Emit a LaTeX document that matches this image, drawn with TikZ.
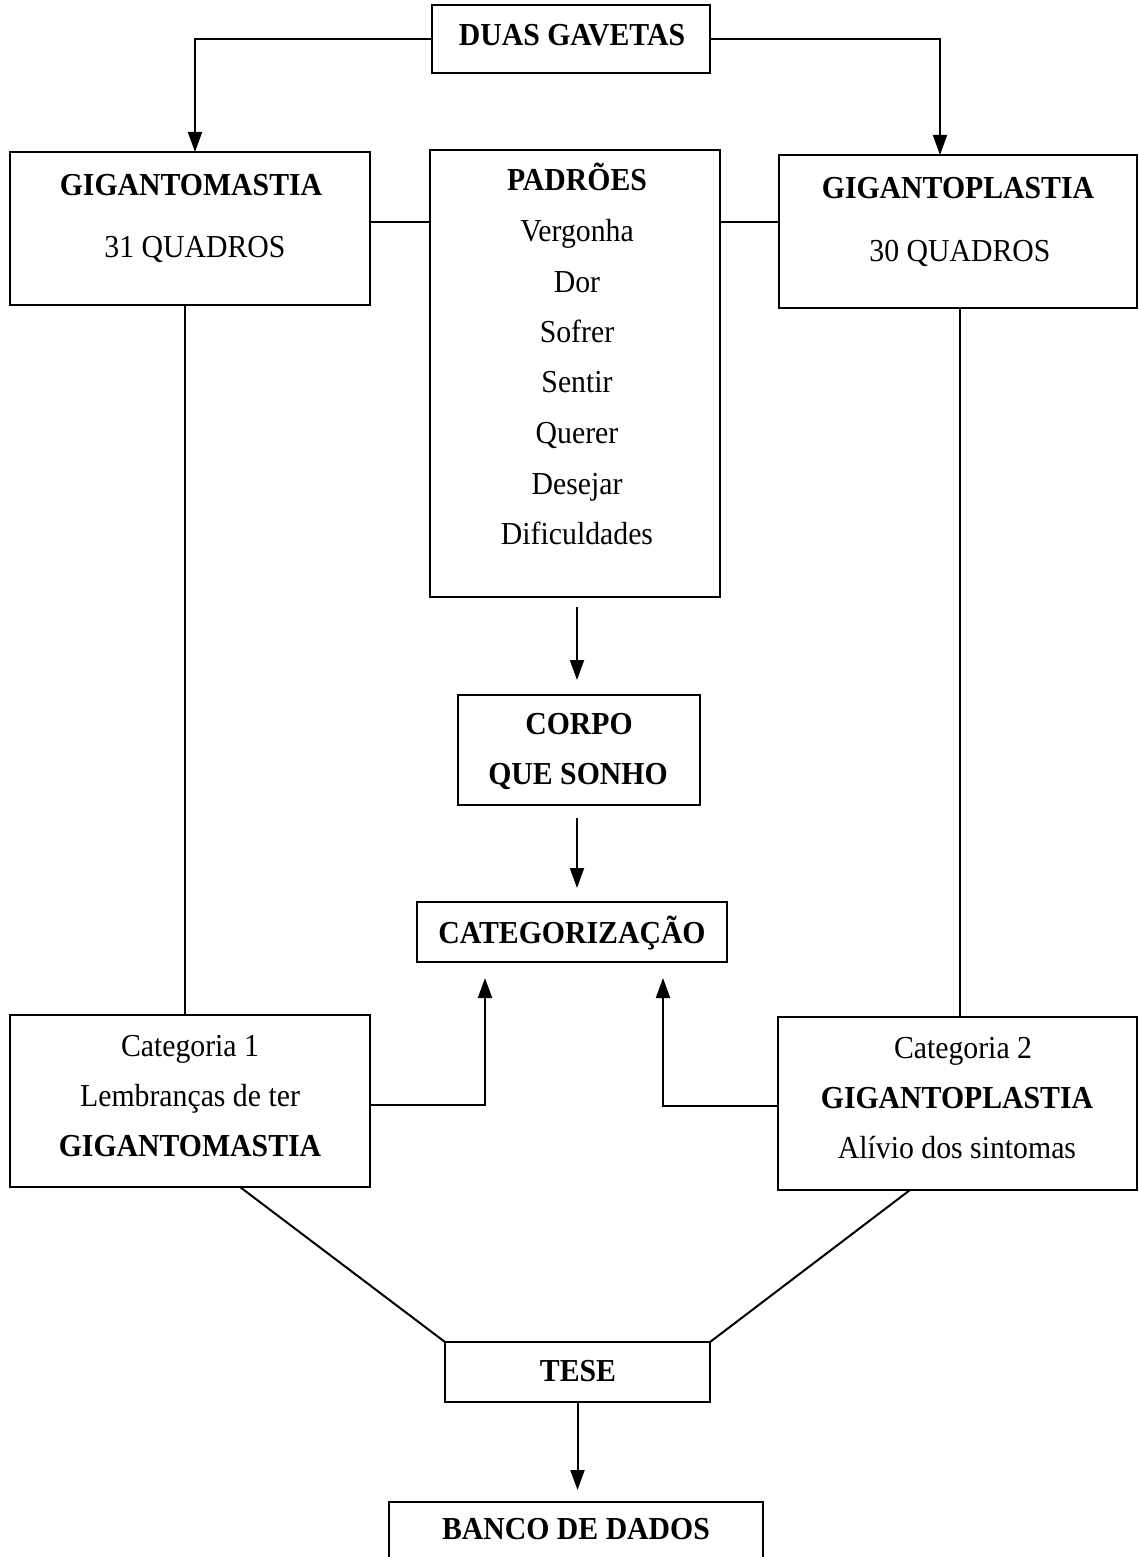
\documentclass[tikz,border=0pt]{standalone}
\usepackage{fontspec}
\setmainfont{Liberation Serif}[FakeStretch=0.93]
\usetikzlibrary{arrows.meta,calc}
\tikzset{
 box/.style={draw, line width=2pt, inner sep=0pt, outer sep=0pt},
 txt/.style={anchor=base, inner sep=0pt, font=\fontsize{32}{36}\selectfont},
 btxt/.style={anchor=base, inner sep=0pt, font=\fontsize{32}{36}\selectfont\bfseries},
 link/.style={line width=2pt},
 arr/.style={line width=2pt, -{Triangle[length=20pt,width=14pt]}},
}
\begin{document}
\begin{tikzpicture}[x=1pt,y=-1pt]
\useasboundingbox (0,0) rectangle (1139,1557);
\fill[white] (0,0) rectangle (1139,1557);

% boxes
\node[box, minimum width=278pt, minimum height=68pt] (dg) at (571,39) {};
\node[box, minimum width=360pt, minimum height=153pt] (gm) at (190,228.5) {};
\node[box, minimum width=290pt, minimum height=447pt] (pad) at (575,373.5) {};
\node[box, minimum width=358pt, minimum height=153pt] (gp) at (958,231.5) {};
\node[box, minimum width=242pt, minimum height=110pt] (corpo) at (579,750) {};
\node[box, minimum width=310pt, minimum height=60pt] (cat) at (572,932) {};
\node[box, minimum width=360pt, minimum height=172pt] (c1) at (190,1101) {};
\node[box, minimum width=359pt, minimum height=173pt] (c2) at (957.5,1103.5) {};
\node[box, minimum width=265pt, minimum height=60pt] (tese) at (577.5,1372) {};
\node[box, minimum width=374pt, minimum height=120pt] (banco) at (576,1562) {};

% texts
\node[btxt] (tdg) at (572,46) {DUAS GAVETAS};
\node[btxt] (tgm1) at (191,196) {GIGANTOMASTIA};
\node[txt] (tgm2) at (195,257) {31 QUADROS};
\node[btxt] (tgp1) at (958,198) {GIGANTOPLASTIA};
\node[txt] (tgp2) at (960,261) {30 QUADROS};
\node[btxt] (tpad) at (577,191) {PADRÕES};
\foreach \w/\yy [count=\i] in {Vergonha/241,Dor/292,Sofrer/342,Sentir/392,Querer/443,Desejar/494,Dificuldades/544}
  \node[txt] (tp\i) at (577,\yy) {\w};
\node[btxt] (tco1) at (579,734) {CORPO};
\node[btxt] (tco2) at (578,784) {QUE SONHO};
\node[btxt] (tcat) at (572,943) {CATEGORIZAÇÃO};
\node[txt] (tc11) at (190,1056) {Categoria 1};
\node[txt] (tc12) at (190,1106) {Lembranças de ter};
\node[btxt] (tc13) at (190,1156) {GIGANTOMASTIA};
\node[txt] (tc21) at (963,1058) {Categoria 2};
\node[btxt] (tc22) at (957,1108) {GIGANTOPLASTIA};
\node[txt] (tc23) at (957,1158) {Alívio dos sintomas};
\node[btxt] (ttese) at (578,1381) {TESE};
\node[btxt] (tbanco) at (576,1539) {BANCO DE DADOS};

% connectors
\draw[arr] (dg.west) -| ([xshift=5pt]gm.north);
\draw[arr] (dg.east) -| ([xshift=-18pt]gp.north);
\draw[link] ([yshift=6.5pt]gm.east) -- ([yshift=6.5pt]gm.east -| pad.west);
\draw[link] ([yshift=6.5pt]gm.east -| pad.east) -- ([yshift=6.5pt]gm.east -| gp.west);
\draw[arr, shorten <=10pt, shorten >=15pt] ([xshift=2pt]pad.south) -- ([xshift=2pt]pad.south |- corpo.north);
\draw[arr, shorten <=13pt, shorten >=14pt] ([xshift=-2pt]corpo.south) -- ([xshift=-2pt]corpo.south |- cat.north);
\draw[link] ([xshift=-5pt]gm.south) -- ([xshift=-5pt]gm.south |- c1.north);
\draw[link] ([xshift=2pt]gp.south) -- ([xshift=2pt]gp.south |- c2.north);
\draw[arr, shorten >=16pt] ([yshift=-4pt]c1.east) -| ([xshift=-87pt]cat.south);
\draw[arr, shorten >=16pt] ([yshift=-2.5pt]c2.west) -| ([xshift=91pt]cat.south);
\draw[link] ([xshift=50pt]c1.south) -- (tese.north west);
\draw[link] ([xshift=-47.5pt]c2.south) -- (tese.north east);
\draw[arr, shorten >=12pt] (tese.south) -- (tese.south |- banco.north);
\end{tikzpicture}
\end{document}
